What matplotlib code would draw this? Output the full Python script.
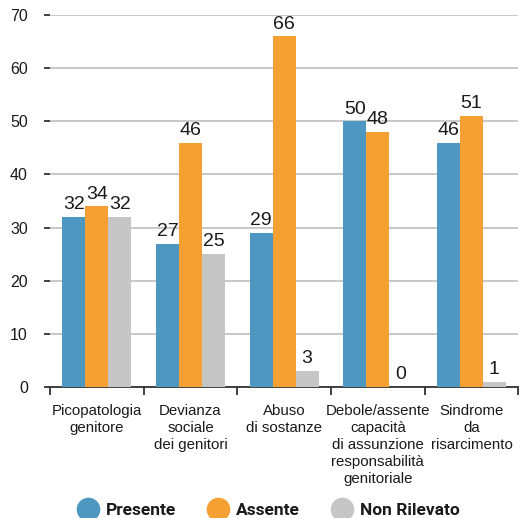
import matplotlib
matplotlib.use("Agg")
import matplotlib.pyplot as plt
import numpy as np
from matplotlib.lines import Line2D

categories = ["Picopatologia\ngenitore", "Devianza\nsociale\ndei genitori", "Abuso\ndi sostanze",
              "Debole/assente\ncapacità\ndi assunzione\nresponsabilità\ngenitoriale",
              "Sindrome\nda\nrisarcimento"]
presente = [32, 27, 29, 50, 46]
assente = [34, 46, 66, 48, 51]
non_rilevato = [32, 25, 3, 0, 1]
series_names = ["Presente", "Assente", "Non Rilevato"]
colors = ["#4d97c1", "#f5a033", "#c6c6c6"]
yticks = [0, 10, 20, 30, 40, 50, 60, 70]

plt.rcParams["font.family"] = ["Liberation Sans", "DejaVu Sans"]

fig = plt.figure(figsize=(5.25, 5.18), dpi=100)
ax = fig.add_axes([0.0952, 0.2529, 0.892, 0.718])

x = np.arange(len(categories))
w = 0.245
for i, (vals, col) in enumerate(zip([presente, assente, non_rilevato], colors)):
    pos = x + (i - 1) * w
    ax.bar(pos, vals, width=w, color=col, zorder=3)
    for p, v in zip(pos, vals):
        ax.text(p, v + 0.7, str(v), ha="center", va="bottom", fontsize=14,
                color="#1a1a1a", zorder=4)

ax.set_xlim(-0.5, len(categories) - 0.5)
ax.set_ylim(0, 70)
ax.set_yticks(yticks)
ax.set_yticklabels([str(t) for t in yticks], fontsize=11.5, color="#1a1a1a")
ax.yaxis.grid(True, color="#c4c4c4", linewidth=1.3, zorder=0)
ax.tick_params(axis="y", length=4, width=1.3, color="#333333", pad=12)

ax.set_xticks(x)
ax.set_xticklabels(categories, fontsize=10.8, color="#1a1a1a", linespacing=1.28)
ax.tick_params(axis="x", length=0, pad=12)
# boundary ticks between categories
ax.set_xticks(np.arange(len(categories) + 1) - 0.5, minor=True)
ax.tick_params(axis="x", which="minor", length=6, width=1.3, color="#333333")

for s in ["top", "right", "left"]:
    ax.spines[s].set_visible(False)
ax.spines["bottom"].set_color("#333333")
ax.spines["bottom"].set_linewidth(1.3)

handles = [Line2D([0], [0], marker="o", linestyle="", markersize=16,
                  markerfacecolor=c, markeredgecolor=c) for c in colors]
leg = fig.legend(handles, series_names, loc="center", bbox_to_anchor=(0.51, 0.015),
                 ncol=3, frameon=False, handletextpad=0.3, columnspacing=1.75,
                 handlelength=1.4,
                 prop={"family": "Roboto", "weight": "bold", "size": 12.5})
for t in leg.get_texts():
    t.set_color("#1a1a1a")

fig.savefig("out.png", dpi=100)
